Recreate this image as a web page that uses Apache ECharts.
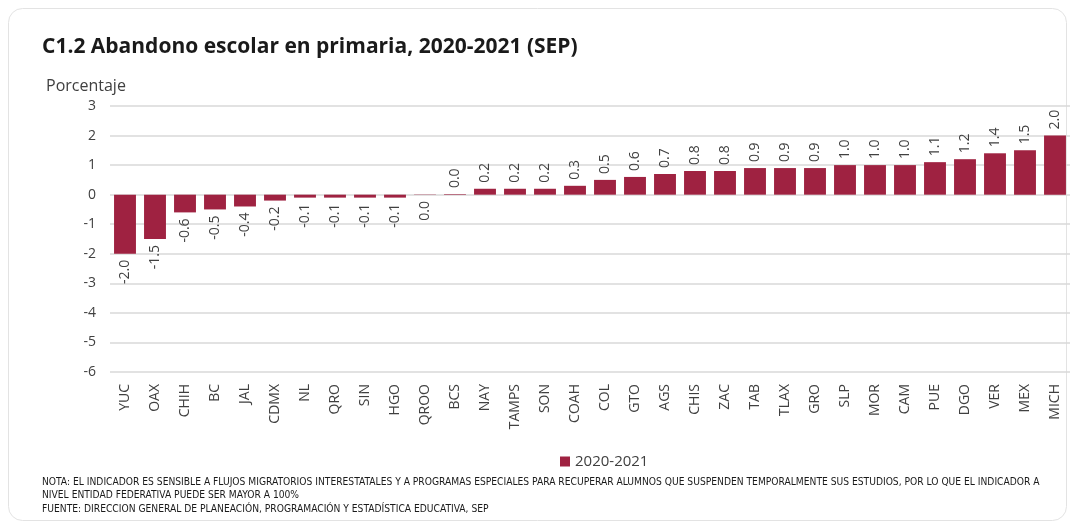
<!DOCTYPE html>
<html>
<head>
<meta charset="utf-8">
<script src="https://cdn.jsdelivr.net/npm/echarts@6/dist/echarts.min.js"></script>
<style>
    html, body { margin: 0; padding: 0; background: #fff; }
    #chart { width: 1070px; height: 525px; }
</style>
</head>
<body>
<div id="chart"></div>
<script>
// Data
const states = ['YUC', 'OAX', 'CHIH', 'BC', 'JAL', 'CDMX', 'NL', 'QRO', 'SIN', 'HGO', 'QROO',
    'BCS', 'NAY', 'TAMPS', 'SON', 'COAH', 'COL', 'GTO', 'AGS', 'CHIS', 'ZAC', 'TAB', 'TLAX',
    'GRO', 'SLP', 'MOR', 'CAM', 'PUE', 'DGO', 'VER', 'MEX', 'MICH'];
const abandono = [-2.0, -1.5, -0.6, -0.5, -0.4, -0.2, -0.1, -0.1, -0.1, -0.1, -0.01,
    0.02, 0.2, 0.2, 0.2, 0.3, 0.5, 0.6, 0.7, 0.8, 0.8, 0.9, 0.9,
    0.9, 1.0, 1.0, 1.0, 1.1, 1.2, 1.4, 1.5, 2.0];
const yTicks = [-6, 3, 1];
const seriesName = '2020-2021';

const notes = [
    'NOTA: EL INDICADOR ES SENSIBLE A FLUJOS MIGRATORIOS INTERESTATALES Y A PROGRAMAS ESPECIALES PARA RECUPERAR ALUMNOS QUE SUSPENDEN TEMPORALMENTE SUS ESTUDIOS, POR LO QUE EL INDICADOR A',
    'NIVEL ENTIDAD FEDERATIVA PUEDE SER MAYOR A 100%',
    'FUENTE: DIRECCION GENERAL DE PLANEACIÓN, PROGRAMACIÓN Y ESTADÍSTICA EDUCATIVA, SEP'
];

const mainFont = 'Open Sans';
const guinda = '#9f2241';
const textColor = '#404040';

const chart = echarts.init(document.getElementById('chart'));

// negative bars get their label below, positive ones above
const barData = abandono.map(function(v) {
    return {
        value: v,
        label: v < 0
            ? { position: 'bottom', align: 'right' }
            : { position: 'top', align: 'left' }
    };
});

const option = {
    backgroundColor: '#fff',
    animation: false,
    title: {
        text: 'C1.2 Abandono escolar en primaria, 2020-2021 (SEP)',
        left: 37,
        top: 32,
        textStyle: {
            fontFamily: mainFont,
            fontWeight: 'bold',
            fontSize: 21,
            color: '#1a1a1a'
        }
    },
    legend: {
        data: [seriesName],
        left: 555,
        top: 449,
        icon: 'rect',
        itemWidth: 10,
        itemHeight: 10,
        itemGap: 4,
        textStyle: { fontFamily: mainFont, fontSize: 15, color: textColor }
    },
    grid: {
        left: 110,
        right: -2,
        top: 106,
        bottom: 153,
        containLabel: false
    },
    xAxis: {
        type: 'category',
        data: states,
        axisLine: { show: false },
        axisTick: { show: false },
        axisLabel: {
            rotate: 90,
            interval: 0,
            margin: 12,
            fontFamily: mainFont,
            fontSize: 14,
            color: textColor
        }
    },
    yAxis: {
        type: 'value',
        min: yTicks[0],
        max: yTicks[1],
        interval: yTicks[2],
        name: 'Porcentaje',
        nameLocation: 'end',
        nameGap: 12,
        nameTextStyle: {
            fontFamily: mainFont,
            fontSize: 16,
            color: textColor,
            align: 'left',
            padding: [0, 0, 0, -64]
        },
        axisLine: { show: false },
        axisTick: { show: false },
        axisLabel: {
            margin: 14,
            fontFamily: mainFont,
            fontSize: 14,
            color: textColor
        },
        splitLine: { lineStyle: { color: '#d9d9d9', width: 1.5 } }
    },
    series: [{
        name: seriesName,
        type: 'bar',
        data: barData,
        barWidth: '73%',
        itemStyle: { color: guinda },
        label: {
            show: true,
            rotate: 90,
            distance: 6,
            verticalAlign: 'middle',
            fontFamily: mainFont,
            fontSize: 14,
            color: textColor,
            formatter: function(p) {
                const s = p.value.toFixed(1);
                return s === '-0.0' ? '0.0' : s;
            }
        }
    }],
    graphic: [{
        type: 'rect',
        shape: { x: 8.5, y: 8.5, width: 1058, height: 512, r: 14 },
        style: { fill: 'none', stroke: '#e3e3e3', lineWidth: 1 },
        z: -1
    }].concat(notes.map(function(t, i) {
        return {
            type: 'text',
            left: 42,
            top: 477 + i * 13.5,
            style: {
                text: t,
                font: '10.2px "Liberation Sans Narrow", "DejaVu Sans Condensed", sans-serif',
                fill: '#1a1a1a'
            }
        };
    }))
};

chart.setOption(option);
</script>
</body>
</html>
